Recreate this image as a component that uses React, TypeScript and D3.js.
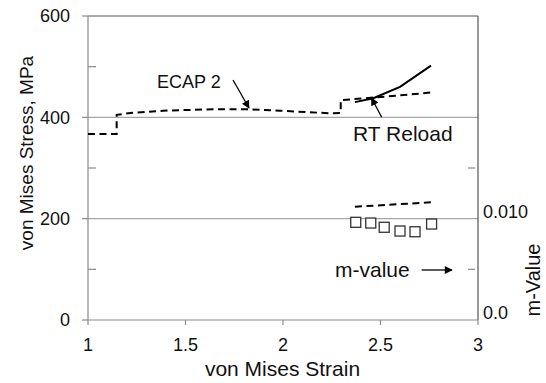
import React from "react";
import * as d3 from "d3";

const ecapStrain = [1.0, 1.147, 1.147, 1.23, 1.385, 1.64, 1.815, 1.985, 2.24, 2.296, 2.296, 2.53, 2.76];
const ecapStress = [367, 367, 405, 409, 413, 416, 416, 413, 408, 408.5, 434, 441, 449];

const reloadStrain = [2.369, 2.463, 2.6, 2.759];
const reloadStress = [430, 437.6, 460, 502];

const mLineStrain = [2.369, 2.768];
const mLineValue = [0.01118, 0.01162];

const mStrain = [2.373, 2.45, 2.519, 2.6, 2.677, 2.762];
const mValue = [0.00964, 0.00957, 0.00915, 0.00878, 0.00871, 0.00947];

const xTicks = [1, 1.5, 2, 2.5, 3];
const yTicks = [0, 200, 400, 600];
const yMinor = [100, 300, 500];
const y2Labels = [0, 0.01];
const y2LabelText = ["0.0", "0.010"];
const y2Minor = [0.005, 0.015];

const W = 546, H = 383;
const L = 88, R = 478, T = 16, B = 320;
const FONT = "'Liberation Sans', Arial, sans-serif";

export default function App() {
  const x = d3.scaleLinear().domain([1, 3]).range([L, R]);
  const y = d3.scaleLinear().domain([0, 600]).range([B, T]);
  const y2 = d3.scaleLinear().domain([0, 0.03]).range([B, T]);

  const line = d3.line<[number, number]>().x(d => x(d[0])).y(d => y(d[1]));
  const line2 = d3.line<[number, number]>().x(d => x(d[0])).y(d => y2(d[1]));

  const ecap = line(ecapStrain.map((s, i) => [s, ecapStress[i]]));
  const reload = line(reloadStrain.map((s, i) => [s, reloadStress[i]]));
  const mLine = line2(mLineStrain.map((s, i) => [s, mLineValue[i]]));

  const axisCol = "#8a8a8a";
  const borderCol = "#555";
  const gridCol = "#a6a6a6";

  return (
    <svg width={W} height={H} style={{ position: "absolute", left: 0, top: 0, background: "#fff" }} fontFamily={FONT}>
      <defs>
        <marker id="ah" viewBox="0 0 10 10" refX="9" refY="5" markerWidth="9" markerHeight="8" markerUnits="userSpaceOnUse" orient="auto">
          <path d="M0,0 L10,5 L0,10 z" fill="#000" />
        </marker>
      </defs>
      {[200, 400].map(v => (
        <line key={v} x1={L} x2={R} y1={y(v)} y2={y(v)} stroke={gridCol} strokeWidth={1.2} />
      ))}
      <line x1={L} x2={R} y1={T} y2={T} stroke={borderCol} strokeWidth={1.2} />
      <line x1={R} x2={R} y1={T} y2={B} stroke={borderCol} strokeWidth={1.2} />
      <line x1={L} x2={L} y1={T} y2={B} stroke={axisCol} strokeWidth={1.2} />
      <line x1={L} x2={R} y1={B} y2={B} stroke={axisCol} strokeWidth={1.2} />
      {yTicks.map(v => (
        <g key={v}>
          <line x1={L - 6} x2={L} y1={y(v)} y2={y(v)} stroke={axisCol} strokeWidth={1.2} />
          <text x={L - 18} y={y(v)} dy="0.35em" textAnchor="end" fontSize={18} fill="#111">{v}</text>
        </g>
      ))}
      {yMinor.map(v => (
        <line key={v} x1={L} x2={L + 8} y1={y(v)} y2={y(v)} stroke={axisCol} strokeWidth={1.2} />
      ))}
      {xTicks.map(v => (
        <g key={v}>
          <line x1={x(v)} x2={x(v)} y1={B} y2={B + 5} stroke={axisCol} strokeWidth={1.2} />
          <text x={x(v)} y={350.5} textAnchor="middle" fontSize={18} fill="#111">{v}</text>
        </g>
      ))}
      {y2Labels.map((v, i) => (
        <text key={v} x={483} y={y2(v) - 1} textAnchor="start" fontSize={18} fill="#111">{y2LabelText[i]}</text>
      ))}
      {y2Minor.map(v => (
        <line key={v} x1={R - 10} x2={R - 3} y1={y2(v)} y2={y2(v)} stroke={axisCol} strokeWidth={1.2} />
      ))}
      <path d={ecap ?? ""} fill="none" stroke="#000" strokeWidth={2} strokeDasharray="7,4.5" />
      <path d={reload ?? ""} fill="none" stroke="#000" strokeWidth={2} />
      <path d={mLine ?? ""} fill="none" stroke="#000" strokeWidth={2} strokeDasharray="7,4.5" />
      {mStrain.map((s, i) => (
        <rect key={i} x={x(s) - 5} y={y2(mValue[i]) - 5} width={10} height={10} fill="#fff" stroke="#333" strokeWidth={1.3} />
      ))}
      <text x={157} y={88} fontSize={18} fill="#111">ECAP 2</text>
      <line x1={233} y1={80} x2={249} y2={108} stroke="#000" strokeWidth={1.3} markerEnd="url(#ah)" />
      <text x={353} y={140.5} fontSize={21} fill="#111">RT Reload</text>
      <line x1={381.7} y1={117.3} x2={371.5} y2={98} stroke="#000" strokeWidth={1.3} markerEnd="url(#ah)" />
      <text x={335} y={277} fontSize={21} fill="#111">m-value</text>
      <line x1={421.7} y1={270} x2={452} y2={270} stroke="#000" strokeWidth={1.3} markerEnd="url(#ah)" />
      <text x={282.5} y={376} textAnchor="middle" fontSize={21} fill="#111">von Mises Strain</text>
      <text transform={`translate(33,153) rotate(-90)`} textAnchor="middle" fontSize={19} fill="#111">von Mises Stress, MPa</text>
      <text transform={`translate(540,280) rotate(-90)`} textAnchor="middle" fontSize={20} fill="#111">m-Value</text>
    </svg>
  );
}
